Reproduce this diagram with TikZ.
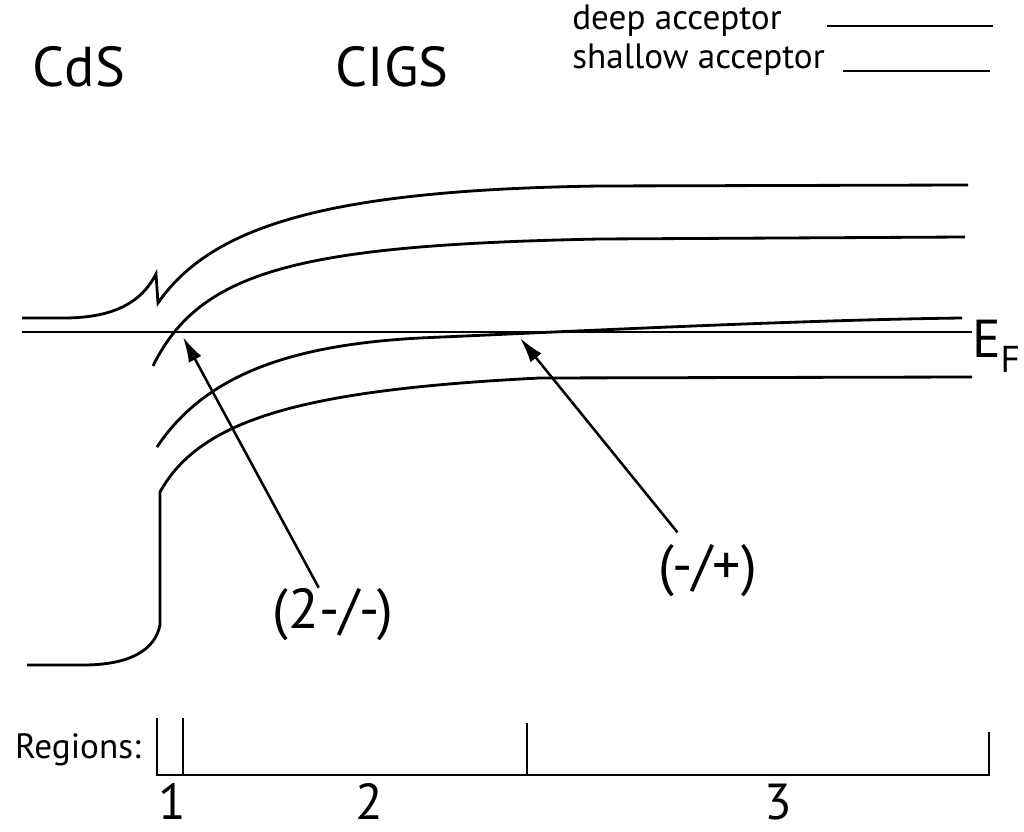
\documentclass[tikz,border=0pt]{standalone}
\usepackage{fontspec}
\setmainfont{PT Sans}
\usetikzlibrary{arrows.meta}
\tikzset{band/.style={line width=2pt},thinline/.style={line width=1.5pt},big/.style={font=\fontsize{40}{44}\selectfont,inner sep=0pt},small/.style={font=\fontsize{25}{28}\selectfont,inner sep=0pt},digit/.style={font=\fontsize{36}{40}\selectfont,inner sep=0pt},arr/.style={-{Latex[length=18pt,width=10pt]},line width=1.8pt}}

\begin{document}
\begin{tikzpicture}[x=0.025cm,y=-0.025cm]
  \useasboundingbox (0,0) rectangle (1024,832);
  \node[big,anchor=base](cds) at (79,87){CdS};
  \node[big,anchor=base](cigs) at (392,87){CIGS};
  \node[small,anchor=base west](deep) at (572,30){deep acceptor};
  \node[small,anchor=base west](shallow) at (572,69){shallow acceptor};
  \draw[thinline](827,26)--(993,26);\draw[thinline](843,71)--(990,71);
  \draw[band](22,318)--(63,318) .. controls (110,318) and (140,305) .. (156,274)--(158,303) .. controls (212,225) and (330,190) .. (600,186)--(968,185);
  \draw[band](153,366) .. controls (200,270) and (300,245) .. (600,239)--(965,237);
  \draw[band](157,447) .. controls (205,375) and (290,345) .. (420,338) .. controls (580,331) and (800,320) .. (962,318);
  \draw[band](22,332)--(972,332);
  \draw[band](27,665)--(83,665) .. controls (130,665) and (155,650) .. (160,625)--(160,492) .. controls (200,420) and (300,390) .. (540,378)--(972,377);
  \node[font=\fontsize{38}{42}\selectfont,inner sep=0pt,anchor=base east](ef) at (1021,358){E\textsubscript{F}};
  \node[big,anchor=base](q2) at (333,628){(2-/-)};
  \node[big,anchor=base,inner ysep=8pt](q1) at (708,584){(-/+)};
  \coordinate(t2) at (183,337);\coordinate(t1) at (520,338);
  \draw[arr](q2)--(t2);\draw[arr](q1)--(t1);
  \node[small,anchor=base](reg) at (78,758){Regions:};
  \draw[thinline](157,718)--(157,775)--(989,775)--(989,732);
  \draw[thinline](183,718)--(183,775);\draw[thinline](527,723)--(527,775);
  \node[digit,anchor=base](r1) at (172,819){1};
  \node[digit,anchor=base](r2) at (369,819){2};
  \node[digit,anchor=base](r3) at (778,819){3};
\end{tikzpicture}
\end{document}
